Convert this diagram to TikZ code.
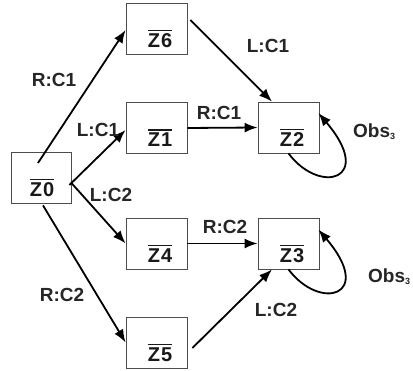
\documentclass[tikz,border=0pt]{standalone}
\usepackage{fontspec}
\setmainfont{Liberation Sans}
\usetikzlibrary{arrows.meta}
\newcommand\ovl[1]{\vbox{\hrule height 1.4pt\kern 2.4pt\hbox{#1}}}
\begin{document}
\begin{tikzpicture}[x=1pt,y=-1pt,
  zbox/.style={draw=black!70,line width=0.8pt,minimum width=61pt,minimum height=51pt,inner sep=0pt},
  zlbl/.style={font=\fontsize{20}{21}\selectfont\bfseries,text=black!90,inner sep=0pt},
  elbl/.style={font=\fontsize{19}{20}\selectfont\bfseries,text=black!85,inner sep=0pt},
  conn/.style={line width=1.8pt,-{Latex[length=13pt,width=10pt]}}]
\useasboundingbox (0,0) rectangle (413,371);
% boxes
\node[zbox] (z6) at (156.5,28.5) {};
\node[zbox] (z1) at (156.5,128) {};
\node[zbox,minimum width=60pt] (z0) at (41,177.5) {};
\node[zbox] (z4) at (156.5,243.5) {};
\node[zbox] (z5) at (156.5,342.5) {};
\node[zbox] (z2) at (288.5,127.5) {};
\node[zbox] (z3) at (288.5,243.5) {};
% box labels
\node[zlbl] (t6) at ([shift={(3.5,10)}]z6.center) {\ovl{Z\kern1pt6}};
\node[zlbl] (t1) at ([shift={(3.5,10)}]z1.center) {\ovl{Z\kern1pt1}};
\node[zlbl] (t0) at ([shift={(1,10)}]z0.center) {\ovl{Z\kern1pt0}};
\node[zlbl] (t4) at ([shift={(3.5,10)}]z4.center) {\ovl{Z\kern1pt4}};
\node[zlbl] (t5) at ([shift={(3.5,10)}]z5.center) {\ovl{Z\kern1pt5}};
\node[zlbl] (t2) at ([shift={(3.5,10)}]z2.center) {\ovl{Z\kern1pt2}};
\node[zlbl] (t3) at ([shift={(3.5,10)}]z3.center) {\ovl{Z\kern1pt3}};
% connectors
\draw[conn] ([shift={(-3,-14.5)}]z0.center) -- ([shift={(0,1.5)}]z6.west);
\draw[conn] ([shift={(-2,7.5)}]z0.east) -- ([shift={(0,2)}]z1.west);
\draw[conn] ([shift={(0,5.5)}]z0.east) -- (z4.west);
\draw[conn] ([shift={(2,2)}]z0.south) -- (z5.west);
\draw[conn] ([shift={(3,-8.5)}]z6.east) -- ([shift={(-16.5,0)}]z2.north);
\draw[conn] (z1.east) -- (z2.west);
\draw[conn] (z4.east) -- (z3.west);
\draw[conn] ([shift={(5,5.5)}]z5.east) -- ([shift={(-16.5,0)}]z3.south);
\draw[conn] (z2.south) .. controls +(31.5,42) and +(57,67) .. ([shift={(-1,-14.5)}]z2.east);
\draw[conn] (z3.south) .. controls +(31.5,42) and +(57,67) .. ([shift={(-1,-14)}]z3.east);
% edge labels
\node[elbl] (l1) at (54,80) {R:C1};
\node[elbl] (l2) at (98,130) {L:C1};
\node[elbl] (l3) at (111,195) {L:C2};
\node[elbl] (l4) at (62,295) {R:C2};
\node[elbl] (l5) at (268,46) {L:C1};
\node[elbl] (l6) at (219,113) {R:C1};
\node[elbl] (l7) at (225,227) {R:C2};
\node[elbl] (l8) at (276,310) {L:C2};
\node[elbl,anchor=base west] (o1) at (353,137.5) {Obs\raisebox{-2.5pt}{\fontsize{9}{10}\selectfont 3}};
\node[elbl,anchor=base west] (o2) at (368,282.5) {Obs\raisebox{-2.5pt}{\fontsize{9}{10}\selectfont 3}};
\end{tikzpicture}
\end{document}
